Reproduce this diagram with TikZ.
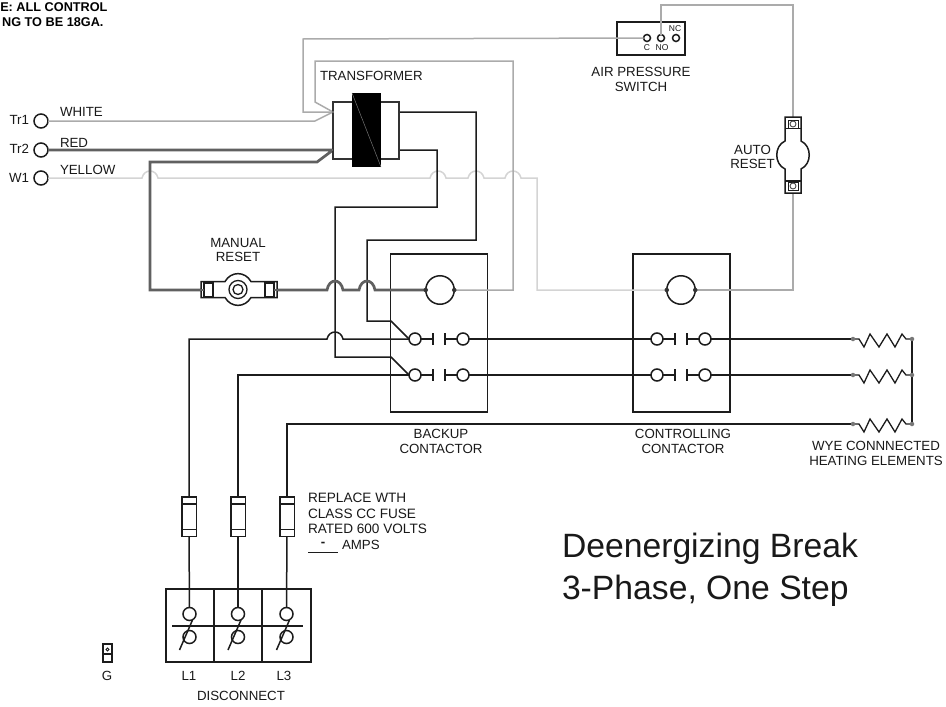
\documentclass[tikz,border=0pt]{standalone}
\usepackage{fontspec}
\setmainfont{Liberation Sans}
\definecolor{wdark}{HTML}{1C1C1C}
\definecolor{wred}{HTML}{606060}
\definecolor{wwhite}{HTML}{ABABAB}
\definecolor{wyellow}{HTML}{D4D4D4}
\definecolor{wdot}{HTML}{787878}
\begin{document}
\begin{tikzpicture}[x=1pt,y=-1pt,
  hopr/.style n args={3}{insert path={-- ({#1-8},#2) .. controls ({#1-6},{#2-1.33*#3}) and ({#1+6},{#2-1.33*#3}) .. ({#1+8},#2)}},
  every node/.style={inner sep=0pt,outer sep=0pt},
  lbl/.style={font=\fontsize{13.3}{14.8}\selectfont,text=black!90,align=center},
  lbll/.style={lbl,align=left,anchor=west},
  smalllbl/.style={font=\fontsize{8.5}{9}\selectfont,text=black!90},
  notelbl/.style={font=\fontsize{12.7}{15.5}\bfseries\selectfont,anchor=east},
  titlelbl/.style={font=\fontsize{33.7}{41.5}\selectfont,text=black!90,align=left,anchor=west},
  term/.style={circle,draw=wdark,line width=1.5pt,fill=white,minimum size=14pt},
  cterm/.style={circle,draw=wdark,line width=1.5pt,fill=white,minimum size=12pt},
  apsterm/.style={circle,draw=wdark,line width=1.5pt,fill=white,minimum size=7pt},
  coil/.style={circle,draw=wdark,line width=1.5pt,fill=white,minimum size=28.5pt},
  boxn/.style={rectangle,draw=wdark,line width=1.5pt,fill=white},
  ctrl/.style={draw=wdark,line width=1.5pt},
  whitew/.style={draw=wwhite,line width=1.5pt},
  yelw/.style={draw=wyellow,line width=1.5pt},
  redw/.style={draw=wred,line width=2.7pt},
  bar/.style={draw=wdark,line width=1.5pt},
  dotn/.style={circle,fill=wdot,minimum size=4.5pt},
  cdot/.style={circle,fill=wdark!90,minimum size=4.5pt}]
\useasboundingbox (0,0) rectangle (946,707);
\fill[white] (0,0) rectangle (946,707);

% contactor boxes
\node[boxn,minimum width=97pt,minimum height=158pt] (bk) at (439,333) {};
\node[boxn,minimum width=97pt,minimum height=158pt] (ck) at (681.5,333) {};

% terminals
\node[term] (tr1) at (41,121) {};
\node[term] (tr2) at (41,150) {};
\node[term] (w1) at (41,178) {};
\node[lbl,anchor=east] (ltr1) at (29,120) {Tr1};
\node[lbl,anchor=east] (ltr2) at (29,149) {Tr2};
\node[lbl,anchor=east] (lw1) at (29,178) {W1};
\node[lbll] (lwhite) at (60,112) {WHITE};
\node[lbll] (lred) at (60,142.5) {RED};
\node[lbll] (lyel) at (60,170) {YELLOW};

% named junctions
\coordinate (txl1) at (333,112);
\coordinate (txl2) at (333,150);
\coordinate (txr1) at (400,112);
\coordinate (txr2) at (400,150);

% coils
\node[coil] (bcoil) at (440,290) {};
\node[coil] (ccoil) at (681,290) {};

% air pressure switch
\node[boxn,minimum width=68pt,minimum height=33pt] (aps) at (651,38.5) {};
\node[apsterm] (apsc) at (647,38) {};
\node[apsterm] (apsno) at (661,38) {};
\node[apsterm] (apsnc) at (676,38) {};
\node[smalllbl] (lc) at (647,47.5) {C};
\node[smalllbl] (lno) at (662,47.5) {NO};
\node[smalllbl] (lnc) at (675,29) {NC};

% auto reset
\coordinate (arT) at (793,117);
\coordinate (arB) at (793,193);
% manual reset
\coordinate (mrL) at (204,290);
\coordinate (mrR) at (274,290);

% contacts
\foreach \n/\y in {1/339,2/375}{
  \node[cterm] (bl\n) at (415,\y) {};
  \node[cterm] (br\n) at (463,\y) {};
  \node[cterm] (cl\n) at (657,\y) {};
  \node[cterm] (cr\n) at (705,\y) {};
  \draw[bar] (bl\n.east) -- (433,\y) (433,{\y-6}) -- (433,{\y+6}) (445,{\y-6}) -- (445,{\y+6}) (445,\y) -- (br\n.west);
  \draw[bar] (cl\n.east) -- (675,\y) (675,{\y-6}) -- (675,{\y+6}) (687,{\y-6}) -- (687,{\y+6}) (687,\y) -- (cr\n.west);
  \draw[ctrl] (br\n.east) -- (cl\n.west);
}
\coordinate (h1) at (853,339);
\coordinate (h2) at (853,375);
\coordinate (h3) at (853,424);
\coordinate (hs1) at (912,339);
\coordinate (hs2) at (912,375);
\coordinate (hs3) at (912,424);
\draw[ctrl] (cr1.east) -- (h1);
\draw[ctrl] (cr2.east) -- (h2);

% fuses and disconnect
\foreach \n/\x in {1/189,2/238,3/287}{
  \node[boxn,minimum width=14.5pt,minimum height=39.5pt] (f\n) at (\x,516.5) {};
  \draw[bar] ({\x-7},504) -- ({\x+7},504) ({\x-7},529.5) -- ({\x+7},529.5);
}
\node[boxn,minimum width=145pt,minimum height=73pt] (disc) at (238.5,625.5) {};
\draw[bar] (214,589) -- (214,662) (262,589) -- (262,662);
\foreach \n/\x in {1/189.5,2/238,3/286.5}{
  \node[cterm,minimum size=13pt] (dt\n) at (\x,614) {};
  \node[cterm,minimum size=13pt] (db\n) at (\x,637) {};
  \draw[bar] ({\x-10},650) -- ({\x+3},620);
}
\draw[bar] (172,626) -- (303,626);
\draw[ctrl] (f1.south) -- (dt1.north);
\draw[ctrl] (f2.south) -- (dt2.north);
\draw[ctrl] (f3.south) -- (dt3.north);

% power wires
\draw[ctrl] (f1.north) -- (189,339) [hopr={335}{339}{7}] -- (bl1.west);
\draw[ctrl] (f2.north) -- (238,375) -- (bl2.west);
\draw[ctrl] (f3.north) -- (287,424) -- (h3);

% yellow
\draw[yelw] (w1.east) [hopr={150}{178}{7}] [hopr={438}{178}{7}] [hopr={476}{178}{7}] [hopr={513}{178}{7}] -- (537,178) -- (537,290) -- (ccoil.west);
% white
\draw[whitew] (tr1.east) -- (315,121) -- (txl1) -- (303,112) -- (303,39) -- (apsc.west);
\draw[whitew] (txl1) -- (315,102) -- (315,61) -- (513,61) -- (513,290) -- (bcoil.east);
\draw[whitew] (apsno.north) -- (661,5) -- (793,5) -- (arT);
\draw[whitew] (arB) -- (793,290) -- (ccoil.east);
% control wires
\draw[ctrl] (txr1) -- (476,112) -- (476,240) -- (367,240) -- (367,321) -- (391,321) -- (bl1.west);
\draw[ctrl] (txr2) -- (437,150) -- (437,207) -- (335,207) -- (335,357) -- (391,357) -- (bl2.west);
% red
\draw[redw] (tr2.east) -- (txl2) -- (317,162) -- (150,162) -- (150,290) -- (mrL);
\draw[redw] (mrR) [hopr={335}{290}{9}] [hopr={367}{290}{9}] -- (bcoil.west);

% terminal dots
\node[cdot] (bd1) at (bcoil.west) {};
\node[cdot] (bd2) at (bcoil.east) {};
\node[cdot] (cd1) at (ccoil.west) {};
\node[cdot] (cd2) at (ccoil.east) {};

% transformer
\node[rectangle,draw=black!80,line width=1.5pt,fill=white,minimum width=66pt,minimum height=57pt,anchor=center] (tx) at (366,130.5) {};
\fill[black] (352,93) rectangle (381,167);
\draw[black!55,line width=.5pt] (352,93) -- (381,167);
\draw[wred,line width=2.2pt] (328,150) -- (txl2);
\fill[wwhite] (txl1) circle (.9pt);

% heating elements
\foreach \n/\y in {1/339,2/375,3/424}{
  \draw[ctrl,line width=1.3pt] (h\n) -- (859,\y) -- (864,{\y+8}) -- (870,{\y-5}) -- (879,{\y+8}) -- (887,{\y-5}) -- (895,{\y+8}) -- (902,{\y-5}) -- (906,\y) -- (hs\n);
}
\draw[ctrl] (hs1) -- (hs3);
\foreach \n in {1,2,3}{
  \node[dotn] (hl\n) at (h\n) {};
  \node[dotn] (hr\n) at (hs\n) {};
}

% auto reset body
\draw[wdark,line width=1.5pt,fill=white] (785,117) -- (801,117) -- (801,141) .. controls (812,146) and (812,164) .. (801,169) -- (801,193) -- (785,193) -- (785,169) .. controls (774,164) and (774,146) .. (785,141) -- cycle;
\draw[wdark,line width=1.5pt] (785,128.5) -- (801,128.5) (785,181) -- (801,181);
\draw[wdark,line width=1pt,fill=white] (788,120) rectangle (798,128);
\draw[wdark,line width=1pt,fill=white] (788,182) rectangle (798,190);
\draw[black!70,line width=.9pt] (793,124) circle (3pt) (793,186) circle (3pt);

% manual reset body
\draw[wdark,line width=1.5pt,fill=white] (201,281.5) -- (225,281.5) .. controls (231,271) and (245,271) .. (251,281.5) -- (277,281.5) -- (277,297.5) -- (251,297.5) .. controls (245,308) and (231,308) .. (225,297.5) -- (201,297.5) -- cycle;
\draw[wdark,line width=1.3pt] (204,283) rectangle (213,297) (265,283) rectangle (274,297);
\draw[wred,line width=2.7pt] (197,290) -- (mrL) (mrR) -- (280,290);
\draw[wdark,line width=1.3pt] (238,289.5) circle (9pt) (238,289.5) circle (5pt);

% ground
\node[boxn,minimum width=9pt,minimum height=18pt] (gnd) at (107.5,653) {};
\draw[bar] (103,654) -- (112,654);
\draw[bar,line width=.9pt] (107.5,649.5) circle (1.5pt);
\node[lbl] (lg) at (107,675.5) {G};

% labels
\node[notelbl] (note1) at (107.5,7) {E: ALL CONTROL};
\node[notelbl] (note2) at (103.5,22) {NG TO BE 18GA.};
\node[lbll] (ltx) at (320,76) {TRANSFORMER};
\node[lbl] (laps) at (641,79.5) {AIR PRESSURE\\SWITCH};
\node[lbl] (lar) at (752.5,157) {AUTO\\RESET};
\node[lbl] (lmr) at (238,250) {MANUAL\\RESET};
\node[lbl] (lbk) at (441,441.5) {BACKUP\\CONTACTOR};
\node[lbl] (lck) at (683,441.5) {CONTROLLING\\CONTACTOR};
\node[lbl] (lwye) at (876,453.5) {WYE CONNNECTED\\HEATING ELEMENTS};
\node[lbll,font=\fontsize{13.6}{15.7}\selectfont] (lrep) at (308,513.5) {REPLACE WTH\\CLASS CC FUSE\\RATED 600 VOLTS};
\node[lbll] (lamps) at (342,545) {AMPS};
\node[lbl,font=\fontsize{13.3}{15}\bfseries\selectfont] (ldash) at (323,544) {-};
\draw[wdark,line width=1pt] (308,552) -- (338,552);
\node[lbl] (ll1) at (189,676) {L1};
\node[lbl] (ll2) at (238,676) {L2};
\node[lbl] (ll3) at (284,676) {L3};
\node[lbl] (ldisc) at (241,696) {DISCONNECT};
\node[titlelbl] (ttl) at (562,570) {Deenergizing Break\\3-Phase, One Step};
\end{tikzpicture}
\end{document}
